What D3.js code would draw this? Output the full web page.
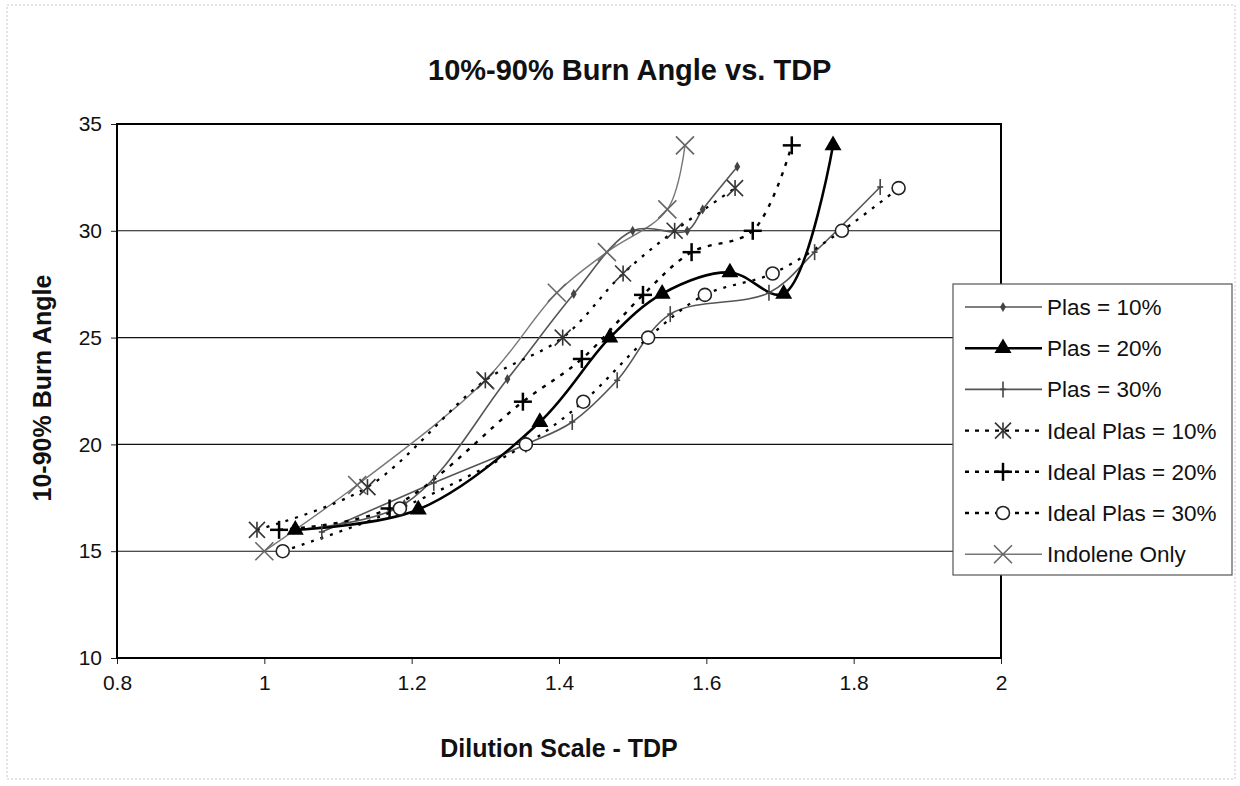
<!DOCTYPE html>
<html><head><meta charset="utf-8">
<script src="https://cdn.jsdelivr.net/npm/d3@7"></script>
<style>body{margin:0;background:#fff} svg{display:block} text{font-family:"Liberation Sans",Arial,sans-serif;fill:#111}</style>
</head><body><svg id="c" width="1240" height="786"></svg>
<script>
// ---- data ----
const xTicks = [0.8, 1, 1.2, 1.4, 1.6, 1.8, 2];
const yTicks = [10, 15, 20, 25, 30, 35];
const seriesNames = ["Plas = 10%", "Plas = 20%", "Plas = 30%", "Ideal Plas = 10%", "Ideal Plas = 20%", "Ideal Plas = 30%", "Indolene Only"];

const plas10X = [1.04, 1.19, 1.33, 1.42, 1.50, 1.574, 1.595, 1.642];
const plas10Y = [16, 17.2, 23.06, 27.04, 30.0, 30.0, 31.0, 33.0];

const plas20X = [1.042, 1.209, 1.374, 1.469, 1.54, 1.632, 1.705, 1.772];
const plas20Y = [16, 16.95, 21.05, 25.0, 27.05, 28.05, 27.05, 34.0];

const plas30X = [1.078, 1.23, 1.355, 1.418, 1.479, 1.551, 1.685, 1.747, 1.836];
const plas30Y = [15.9, 18.2, 20.0, 21.05, 23.0, 26.1, 27.1, 29.0, 32.05];

const ideal10X = [0.99, 1.14, 1.30, 1.405, 1.487, 1.557, 1.639];
const ideal10Y = [16.0, 18.0, 23.0, 25.0, 28.0, 30.0, 32.0];

const ideal20X = [1.02, 1.17, 1.351, 1.431, 1.514, 1.58, 1.663, 1.716];
const ideal20Y = [16.0, 17.0, 22.0, 24.0, 27.0, 29.0, 30.0, 34.0];

const ideal30X = [1.025, 1.184, 1.355, 1.433, 1.521, 1.598, 1.69, 1.784, 1.861];
const ideal30Y = [15.0, 17.0, 20.0, 22.0, 25.0, 27.0, 28.0, 30.0, 32.0];

const indoleneX = [1.0, 1.126, 1.30, 1.397, 1.465, 1.547, 1.571];
const indoleneY = [15.0, 18.1, 23.0, 27.1, 29.0, 31.0, 34.0];

// ---- styles ----
const styles = [
  {stroke:"#555", width:1.6, dash:null, marker:"dot"},
  {stroke:"#000", width:2.6, dash:null, marker:"tri"},
  {stroke:"#555", width:1.6, dash:null, marker:"tick"},
  {stroke:"#000", width:2.3, dash:"3,7", marker:"star"},
  {stroke:"#000", width:2.4, dash:"4,7", marker:"plus"},
  {stroke:"#000", width:2.3, dash:"3,7", marker:"circle"},
  {stroke:"#777", width:1.4, dash:null, marker:"x"}
];
const seriesData = [
  [plas10X, plas10Y], [plas20X, plas20Y], [plas30X, plas30Y],
  [ideal10X, ideal10Y], [ideal20X, ideal20Y], [ideal30X, ideal30Y],
  [indoleneX, indoleneY]
].map(([xs, ys]) => xs.map((x, i) => ({x, y: ys[i]})));

// ---- layout ----
const svg = d3.select("#c");
const L = 117, R = 1001, T = 124, B = 658;
const x = d3.scaleLinear().domain([0.8, 2]).range([L, R]);
const y = d3.scaleLinear().domain([10, 35]).range([B, T]);

svg.append("rect").attr("x", 7).attr("y", 5).attr("width", 1228).attr("height", 774)
  .attr("fill", "none").attr("stroke", "#c8c8c8").attr("stroke-width", 1).attr("stroke-dasharray", "2,2");

// title
svg.append("text").attr("x", 428).attr("y", 80).attr("text-anchor", "start")
  .attr("font-size", 29).attr("font-weight", "bold")
  .text("10%-90% Burn Angle vs. TDP");

// gridlines
svg.append("g").selectAll("line").data(yTicks.filter(d => d > 10 && d < 35)).join("line")
  .attr("x1", L).attr("x2", R).attr("y1", d => y(d)).attr("y2", d => y(d))
  .attr("stroke", "#111").attr("stroke-width", 1.1);

// axes
const xAxis = d3.axisBottom(x).tickValues(xTicks).tickSize(6).tickPadding(11).tickFormat(d3.format("~g"));
const gx = svg.append("g").attr("transform", `translate(0,${B})`).call(xAxis);
gx.select(".domain").remove();
gx.selectAll("text").attr("font-size", 21).attr("fill", "#111");
gx.selectAll("line").attr("stroke", "#222");

const yAxis = d3.axisLeft(y).tickValues(yTicks).tickSize(6).tickPadding(9);
const gy = svg.append("g").attr("transform", `translate(${L},0)`).call(yAxis);
gy.select(".domain").remove();
gy.selectAll("text").attr("font-size", 21).attr("fill", "#111");
gy.selectAll("line").attr("stroke", "#222");

// plot border
svg.append("rect").attr("x", L).attr("y", T).attr("width", R - L).attr("height", B - T)
  .attr("fill", "none").attr("stroke", "#000").attr("stroke-width", 2);

// axis titles
svg.append("text").attr("x", 559).attr("y", 757).attr("text-anchor", "middle")
  .attr("font-size", 25).attr("font-weight", "bold")
  .text("Dilution Scale - TDP");
svg.append("text").attr("transform", `translate(51,${388}) rotate(-90)`).attr("text-anchor", "middle")
  .attr("font-size", 25).attr("font-weight", "bold")
  .text("10-90% Burn Angle");

// markers
function drawMarker(g, type, cx, cy) {
  const m = g.append("g").attr("transform", `translate(${cx},${cy})`);
  if (type === "dot") {
    m.append("path").attr("d", d3.symbol(d3.symbolDiamond, 30)()).attr("fill", "#444");
  } else if (type === "tri") {
    m.append("path").attr("d", d3.symbol(d3.symbolTriangle, 125)()).attr("fill", "#000");
  } else if (type === "tick") {
    m.append("line").attr("x1", 0).attr("x2", 0).attr("y1", -8).attr("y2", 8).attr("stroke", "#444").attr("stroke-width", 1.6);
    m.append("line").attr("x1", -3).attr("x2", 3).attr("y1", 0).attr("y2", 0).attr("stroke", "#444").attr("stroke-width", 1.6);
  } else if (type === "star") {
    const s = 8;
    [[-s, -s, s, s], [-s, s, s, -s], [0, -s, 0, s]].forEach(c =>
      m.append("line").attr("x1", c[0]).attr("y1", c[1]).attr("x2", c[2]).attr("y2", c[3]).attr("stroke", "#333").attr("stroke-width", 1.6));
  } else if (type === "plus") {
    const s = 9;
    m.append("line").attr("x1", -s).attr("x2", s).attr("y1", 0).attr("y2", 0).attr("stroke", "#000").attr("stroke-width", 2.5);
    m.append("line").attr("x1", 0).attr("x2", 0).attr("y1", -s).attr("y2", s).attr("stroke", "#000").attr("stroke-width", 2.5);
  } else if (type === "circle") {
    m.append("circle").attr("r", 6.5).attr("fill", "#fff").attr("stroke", "#222").attr("stroke-width", 1.6);
  } else if (type === "x") {
    const s = 9;
    m.append("line").attr("x1", -s).attr("y1", -s).attr("x2", s).attr("y2", s).attr("stroke", "#666").attr("stroke-width", 1.6);
    m.append("line").attr("x1", -s).attr("y1", s).attr("x2", s).attr("y2", -s).attr("stroke", "#666").attr("stroke-width", 1.6);
  }
}

const line = d3.line().x(d => x(d.x)).y(d => y(d.y)).curve(d3.curveCatmullRom.alpha(0.5));
const plot = svg.append("g");
const drawOrder = [6, 0, 2, 3, 4, 5, 1];
drawOrder.forEach(i => {
  const st = styles[i];
  plot.append("path").datum(seriesData[i]).attr("d", line).attr("fill", "none")
    .attr("stroke", st.stroke).attr("stroke-width", st.width)
    .attr("stroke-dasharray", st.dash).attr("stroke-linecap", "butt");
});
drawOrder.forEach(i => {
  seriesData[i].forEach(p => drawMarker(plot, styles[i].marker, x(p.x), y(p.y)));
});

// legend
const lg = svg.append("g");
const lx = 953, ly = 284, lw = 279, lh = 291;
lg.append("rect").attr("x", lx).attr("y", ly).attr("width", lw).attr("height", lh)
  .attr("fill", "#fff").attr("stroke", "#555").attr("stroke-width", 1.2);
seriesNames.forEach((name, i) => {
  const cy = ly + 23 + i * 41.2;
  const st = styles[i];
  lg.append("line").attr("x1", 965).attr("x2", 1042).attr("y1", cy).attr("y2", cy)
    .attr("stroke", st.stroke).attr("stroke-width", st.width).attr("stroke-dasharray", st.dash ? "4,6" : null);
  drawMarker(lg, st.marker, 1003, cy);
  lg.append("text").attr("x", 1047).attr("y", cy + 8).attr("font-size", 22.5).text(name);
});
</script>
</body></html>
